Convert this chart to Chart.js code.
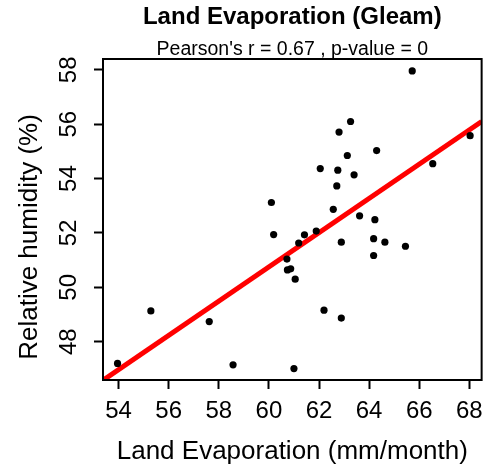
<!DOCTYPE html>
<html>
  <head>
    <title>Land Evaporation (Gleam)</title>
    <script src="https://cdn.jsdelivr.net/npm/chart.js"></script>
    <style>
      body { margin: 0; background: #ffffff; }
      .chart-box { width: 491px; height: 468px; }
    </style>
  </head>
  <body>
    <div class="chart-box">
      <canvas id="evapChart" width="491" height="468"></canvas>
    </div>
    <script>
      // land evaporation (mm/month) vs relative humidity (%)
      var evaporation = [65.72, 63.26, 62.80, 64.30, 63.13, 62.05, 62.75, 63.40, 62.71, 66.54,
        68.03, 62.57, 63.62, 64.23, 53.96, 55.29, 57.62, 58.57, 60.19, 60.10,
        61.19, 61.42, 61.89, 60.72, 60.74, 60.87, 61.05, 61.00, 62.89, 64.18,
        64.63, 65.45, 64.18, 62.20, 62.89];
      var humidity = [57.96, 56.10, 55.71, 55.03, 54.85, 54.37, 54.31, 54.14, 53.73, 54.55,
        55.58, 52.87, 52.63, 52.49, 47.20, 49.13, 48.74, 47.15, 51.94, 53.12,
        51.63, 51.93, 52.07, 51.04, 50.64, 50.68, 50.30, 47.01, 51.66, 51.79,
        51.66, 51.51, 51.17, 49.16, 48.87];
      var xTicks = [54, 56, 58, 60, 62, 64, 66, 68];
      var yTicks = [48, 50, 52, 54, 56, 58];
      var xRange = [53.38, 68.49];
      var yRange = [46.59, 58.40];
      // fitted line
      var fitIntercept = 12.95;
      var fitSlope = 0.630;

      var points = evaporation.map(function(v, i) {
        return { x: v, y: humidity[i] };
      });
      var fitLine = xRange.map(function(v) {
        return { x: v, y: fitIntercept + fitSlope * v };
      });

      var FONT = "'Liberation Sans', Arial, sans-serif";

      // R style box around the plot + rotated y label
      var boxPlugin = {
        id: 'box',
        afterDraw: function(chart) {
          var ctx = chart.ctx, a = chart.chartArea;
          ctx.save();
          ctx.strokeStyle = '#000';
          ctx.lineWidth = 2;
          ctx.strokeRect(a.left, a.top, a.right - a.left, a.bottom - a.top);
          ctx.translate(37, 237);
          ctx.rotate(-Math.PI / 2);
          ctx.font = '26px ' + FONT;
          ctx.fillStyle = '#000';
          ctx.textAlign = 'center';
          ctx.textBaseline = 'alphabetic';
          ctx.fillText('Relative humidity (%)', 0, 0);
          ctx.restore();
        }
      };

      var tickGrid = {
        drawOnChartArea: false,
        drawTicks: true,
        tickLength: 9,
        tickWidth: 2,
        tickColor: '#000'
      };

      new Chart(document.getElementById('evapChart').getContext('2d'), {
        type: 'scatter',
        data: {
          datasets: [{
            label: 'stations',
            data: points,
            backgroundColor: '#000',
            borderColor: '#000',
            pointRadius: 3.6,
            pointBorderWidth: 0,
            order: 1
          }, {
            type: 'line',
            label: 'fit',
            data: fitLine,
            borderColor: '#ff0000',
            borderWidth: 5,
            pointRadius: 0,
            showLine: true,
            fill: false,
            clip: 0,
            order: 2
          }]
        },
        options: {
          responsive: false,
          animation: false,
          layout: { padding: { top: 0, right: 6, bottom: 0, left: 0 } },
          plugins: {
            legend: { display: false },
            tooltip: { enabled: false },
            title: {
              display: true,
              fullSize: false,
              text: 'Land Evaporation (Gleam)',
              color: '#000',
              font: { family: FONT, size: 24, weight: 'bold', lineHeight: 1.2 },
              padding: { top: 3, bottom: 0 }
            },
            subtitle: {
              display: true,
              fullSize: false,
              text: "Pearson's r = 0.67 , p-value = 0",
              color: '#000',
              font: { family: FONT, size: 19.5, lineHeight: 1.0 },
              padding: { top: 7.7, bottom: 0 }
            }
          },
          scales: {
            x: {
              type: 'linear',
              min: xRange[0],
              max: xRange[1],
              afterBuildTicks: function(s) { s.ticks = xTicks.map(function(v) { return { value: v }; }); },
              afterFit: function(s) { s.height = 88; },
              grid: tickGrid,
              border: { display: false },
              ticks: { color: '#000', font: { family: FONT, size: 24 }, padding: 8, autoSkip: false, maxRotation: 0 },
              title: {
                display: true,
                text: 'Land Evaporation (mm/month)',
                color: '#000',
                font: { family: FONT, size: 26, lineHeight: 1.2 },
                padding: { top: 0, bottom: 1 }
              }
            },
            y: {
              type: 'linear',
              min: yRange[0],
              max: yRange[1],
              afterBuildTicks: function(s) { s.ticks = yTicks.map(function(v) { return { value: v }; }); },
              afterFit: function(s) { s.width = 103; },
              grid: tickGrid,
              border: { display: false },
              ticks: {
                color: '#000',
                font: { family: FONT, size: 24 },
                padding: 11,
                autoSkip: false,
                minRotation: 90,
                maxRotation: 90,
                crossAlign: 'center'
              }
            }
          }
        },
        plugins: [boxPlugin]
      });
    </script>
  </body>
</html>
